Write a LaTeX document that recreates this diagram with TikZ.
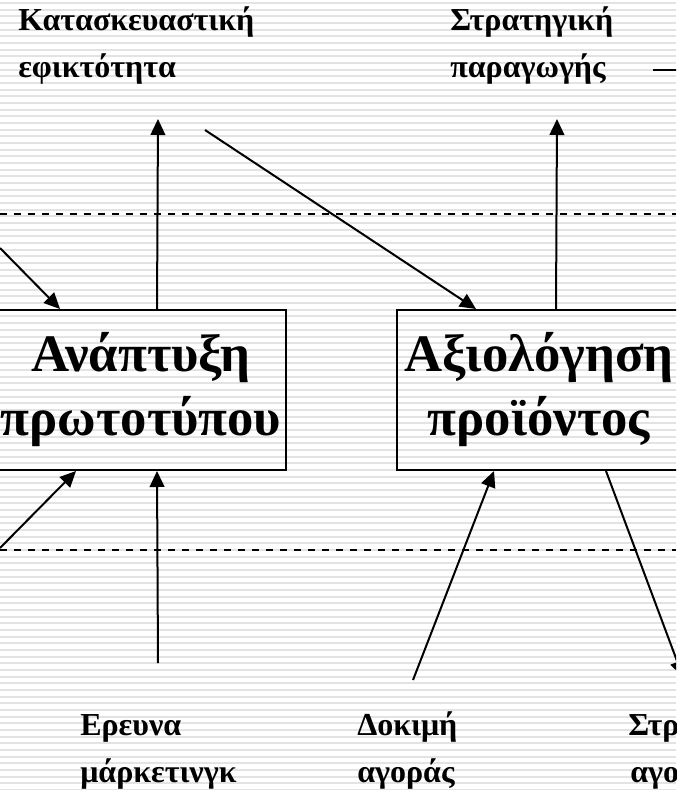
\documentclass[tikz,border=0pt]{standalone}
\usepackage{fontspec}
\setmainfont{Liberation Serif}
\usetikzlibrary{arrows.meta,calc}
\begin{document}
\begin{tikzpicture}[x=0.75pt,y=-0.75pt,
  stripe/.style={draw=black!11, line width=1.5pt},
  conn/.style={line width=1.5pt},
  arr/.style={conn,-{Triangle[length=12pt,width=11pt]}},
  sep/.style={line width=1.5pt, dash pattern=on 5.6pt off 4.9pt},
  lbl/.style={font=\fontsize{24}{28}\selectfont\bfseries, anchor=base west, inner sep=0},
  box/.style={draw, line width=1.5pt, minimum height=120pt, inner sep=0, align=center, font=\fontsize{39.5}{48}\selectfont\bfseries}]
\path[use as bounding box, clip] (0,0) rectangle (676,790);
\foreach \i in {0,...,118} \draw[stripe] (0,{\i*6.67+3}) -- (676,{\i*6.67+3});
% separators
\coordinate (dl1) at (0,214); \coordinate (dr1) at (676,214);
\coordinate (dl2) at (0,550); \coordinate (dr2) at (676,550);
\draw[sep] (dl1) -- (dr1);
\draw[sep] (dl2) -- (dr2);
% boxes
\node[box, minimum width=217.5pt] (b1) at (141,390) {Ανάπτυξη\\πρωτοτύπου};
\node[box, minimum width=213pt] (b2) at (539,390) {Αξιολόγηση\\προϊόντος};
% labels
\node[lbl] (k1) at (18,30) {Κατασκευαστική};
\node[lbl] (k2) at (18,77) {εφικτότητα};
\node[lbl] (s1) at (450,30) {Στρατηγική};
\node[lbl] (s2) at (450,77) {παραγωγής};
\node[lbl] (e1) at (80,735) {Ερευνα};
\node[lbl] (e2) at (80,782) {μάρκετινγκ};
\node[lbl] (d1) at (357,735) {Δοκιμή};
\node[lbl] (d2) at (357,782) {αγοράς};
\node[lbl] (m1) at (628,735) {Στρ};
\node[lbl] (m2) at (630,782) {αγο};
% connectors
\coordinate (lt) at (0,248);
\draw[arr] (lt) -- ($(b1.north west)+(65,0)$);
\coordinate (kt) at (158,119);
\draw[arr] ($(b1.north west)+(162,0)$) -- (kt);
\coordinate (ct) at (205,130);
\draw[arr] (ct) -- ($(b2.north west)+(80,0)$);
\coordinate (st) at (557,119);
\draw[arr] ($(b2.north west)+(160,0)$) -- (st);
\coordinate (lb) at (0,548);
\draw[arr] (lb) -- ($(b1.south west)+(81,0)$);
\coordinate (mb) at (158,663);
\draw[arr] (mb) -- ($(b1.south west)+(162,0)$);
\coordinate (db) at (413,680);
\draw[arr] (db) -- ($(b2.south west)+(98,0)$);
\coordinate (rb) at (683,677);
\draw[arr] ($(b2.south west)+(210,0)$) -- (rb);
\coordinate (tr0) at (653,70); \coordinate (tr1) at (690,70);
\draw[conn] (tr0) -- (tr1);
\end{tikzpicture}
\end{document}
